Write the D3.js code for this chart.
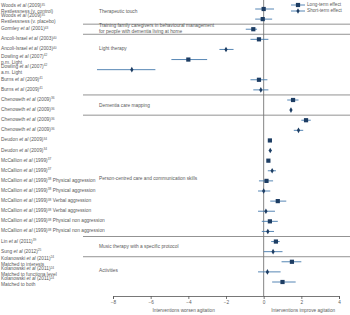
<!DOCTYPE html>
<html>
<head>
<meta charset="utf-8">
<script src="https://cdn.jsdelivr.net/npm/d3@7"></script>
<style>
  body { margin: 0; background: #fff; }
  svg { display: block; font-family: "Liberation Sans", Arial, sans-serif; }
</style>
</head>
<body>
<div id="chart"></div>
<script>
// study labels (one entry per row, top to bottom)
const authors = ["Woods", "Woods", "Gormley", "Ancoli-Israel", "Ancoli-Israel", "Dowling", "Dowling",
  "Burns", "Burns", "Chenoweth", "Chenoweth", "Chenoweth", "Chenoweth", "Deudon", "Deudon",
  "McCallion", "McCallion", "McCallion", "McCallion", "McCallion", "McCallion", "McCallion", "McCallion",
  "Lin", "Sung", "Kolanowski", "Kolanowski", "Kolanowski"];
const years = [2009, 2009, 2001, 2003, 2003, 2007, 2007, 2009, 2009, 2009, 2009, 2009, 2009, 2009, 2009,
  1999, 1999, 1999, 1999, 1999, 1999, 1999, 1999, 2011, 2012, 2011, 2011, 2011];
const refs = [35, 35, 43, 40, 40, 42, 42, 41, 41, 36, 36, 36, 36, 34, 34,
  37, 37, 38, 38, 38, 38, 38, 38, 39, 25, 24, 24, 24];
// text after the reference on the same line
const suffixes = ["", "", "", "", "", "", "", "", "", "", "", "", "", "", "",
  "", "", "Physical aggression", "Physical aggression", "Verbal aggression", "Verbal aggression",
  "Physical non aggression", "Physical non aggression", "", "", "", "", ""];
// second label line
const secondLines = ["Restlessness (v. control)", "Restlessness (v. placebo)", "", "", "",
  "p.m. Light", "a.m. Light", "", "", "", "", "", "", "", "", "", "", "", "", "", "", "", "", "", "",
  "Matched to interests", "Matched to functiona level", "Matched to both"];

// effect sizes
const effectType = ["long", "long", "long", "long", "short", "long", "short", "long", "short",
  "long", "short", "long", "short", "long", "short", "long", "short", "long", "short",
  "long", "short", "long", "short", "long", "short", "long", "short", "long"];
const estimates = [0.0, -0.05, -0.55, -0.25, -2.0, -4.0, -7.0, -0.25, -0.15,
  1.56, 1.45, 2.25, 1.85, 0.33, 0.35, 0.25, 0.45, 0.15, 0.0, 0.75, 0.12, 0.33, 0.22,
  0.65, 0.5, 1.5, 0.2, 1.0];
const lower = [-0.45, -0.45, -0.95, -0.7, -2.35, -4.9, -8.85, -0.7, -0.55,
  1.25, 1.4, 2.0, 1.6, 0.26, 0.27, 0.19, 0.22, -0.25, -0.3, 0.35, -0.3, -0.1, -0.1,
  0.4, 0.0, 0.95, -0.3, 0.45];
const upper = [0.55, 0.45, -0.35, 0.25, -1.6, -3.0, -5.75, 0.2, 0.25,
  1.85, 1.5, 2.5, 2.1, 0.4, 0.43, 0.31, 0.65, 0.5, 0.35, 1.2, 0.6, 0.75, 0.55,
  0.85, 1.0, 2.0, 0.9, 1.7];

// intervention groups
const groupNames = [["Therapeutic touch"],
  ["Training family caregivers in behavioural management", "for people with dementia living at home"],
  ["Light therapy"], ["Dementia care mapping"], ["Person-centred care and communication skills"],
  ["Music therapy with a specific protocol"], ["Activities"]];
const groupFirst = [0, 2, 3, 9, 11, 23, 25];
const groupLast = [1, 2, 8, 10, 22, 24, 27];
const groupLabelRow = [0.3, 2, 3.95, 9.6, 16.8, 23.5, 25.95];

const xTicks = [-8, -6, -4, -2, 0, 2, 4];
const legendLabels = ["Long-term effect", "Short-term effect"];

const W = 350, H = 315;
const axisY = 296;
const textCol = "#5a5a5a";
const markCol = "#1d3d63";
const barCol = "#4479ad";
const fs = 4.8;

const svg = d3.select("#chart").append("svg")
  .attr("width", W).attr("height", H);

const x = d3.scaleLinear().domain([-8, 4]).range([113, 339]);
const y = d3.scaleLinear().domain([0, authors.length - 1]).range([9, 282]);

const rows = authors.map((a, i) => ({
  i, author: a, year: years[i], ref: refs[i], suffix: suffixes[i], second: secondLines[i],
  type: effectType[i], est: estimates[i], lo: lower[i], hi: upper[i]
}));

// zero line
svg.append("line")
  .attr("x1", x(0)).attr("x2", x(0))
  .attr("y1", 0).attr("y2", axisY)
  .attr("stroke", "#666").attr("stroke-width", 0.8);

// group separators
const seps = groupFirst.slice(1).map(f => (y(f) + y(f - 1)) / 2);
svg.selectAll(".sep").data(seps).enter().append("line")
  .attr("class", "sep")
  .attr("x1", 83).attr("x2", W)
  .attr("y1", d => d).attr("y2", d => d)
  .attr("stroke", "#777").attr("stroke-width", 0.8);

// group labels
const gl = svg.selectAll(".glab").data(groupNames).enter().append("text")
  .attr("class", "glab")
  .attr("x", 99)
  .attr("y", (d, i) => y(groupLabelRow[i]) - (d.length - 1) * 2.8)
  .attr("font-size", 4.8).attr("fill", textCol)
  .attr("dominant-baseline", "middle");
gl.each(function(d) {
  d3.select(this).selectAll("tspan").data(d).enter().append("tspan")
    .attr("x", 99).attr("dy", (t, k) => k === 0 ? 0 : 5.6)
    .text(t => t);
});

// study labels
const lab = svg.selectAll(".lab").data(rows).enter().append("g").attr("class", "lab")
  .attr("transform", d => `translate(1,${d.second ? y(d.i) - 2.7 : y(d.i)})`);
const line1 = lab.append("text")
  .attr("font-size", fs).attr("fill", textCol)
  .attr("dominant-baseline", "middle");
line1.append("tspan").text(d => d.author + " ");
line1.append("tspan").attr("font-style", "italic").text("et al");
line1.append("tspan").text(d => ` (${d.year})`);
line1.append("tspan").attr("font-size", 3.2).attr("dy", -1.6).text(d => d.ref);
line1.filter(d => d.suffix).append("tspan")
  .attr("dx", 1.5).attr("dy", 1.6).text(d => d.suffix);
lab.filter(d => d.second).append("text")
  .attr("y", 5.4)
  .attr("font-size", fs).attr("fill", textCol)
  .attr("dominant-baseline", "middle")
  .text(d => d.second);

// error bars
svg.selectAll(".ci").data(rows).enter().append("line")
  .attr("class", "ci")
  .attr("x1", d => x(d.lo)).attr("x2", d => x(d.hi))
  .attr("y1", d => y(d.i)).attr("y2", d => y(d.i))
  .attr("stroke", barCol).attr("stroke-width", 0.9);

// point estimates
function drawMark(sel, type) {
  if (type === "long") {
    sel.append("rect").attr("x", -2.1).attr("y", -2.1).attr("width", 4.2).attr("height", 4.2)
      .attr("fill", markCol);
  } else {
    sel.append("path").attr("d", d3.symbol(d3.symbolDiamond, 9)).attr("fill", markCol);
  }
}
svg.selectAll(".pt").data(rows).enter().append("g")
  .attr("class", "pt")
  .attr("transform", d => `translate(${x(d.est)},${y(d.i)})`)
  .each(function(d) { drawMark(d3.select(this), d.type); });

// x axis
const axis = svg.append("g")
  .attr("transform", `translate(0,${axisY})`)
  .call(d3.axisBottom(x).tickValues(xTicks).tickSize(3).tickPadding(2)
    .tickFormat(d => d < 0 ? "\u2212" + Math.abs(d) : d));
axis.select(".domain").attr("stroke", "#555").attr("stroke-width", 0.8);
axis.selectAll(".tick line").attr("stroke", "#555").attr("stroke-width", 0.8);
axis.selectAll(".tick text").attr("font-size", 4.7).attr("fill", textCol)
  .attr("font-family", "Liberation Sans, Arial, sans-serif");

svg.append("text").attr("x", x(-4.25)).attr("y", 312)
  .attr("text-anchor", "middle").attr("font-size", 4.7).attr("fill", textCol)
  .text("Interventions worsen agitation");
svg.append("text").attr("x", x(2.1)).attr("y", 312)
  .attr("text-anchor", "middle").attr("font-size", 4.7).attr("fill", textCol)
  .text("Interventions improve agitation");

// legend
const leg = svg.selectAll(".leg").data(legendLabels).enter().append("g")
  .attr("class", "leg")
  .attr("transform", (d, i) => `translate(291,${5 + i * 6})`);
leg.append("line").attr("x1", 0).attr("x2", 14)
  .attr("stroke", barCol).attr("stroke-width", 0.9);
leg.append("g").attr("transform", "translate(7,0)")
  .each(function(d, i) { drawMark(d3.select(this), i === 0 ? "long" : "short"); });
leg.append("text").attr("x", 16).attr("font-size", 4.7).attr("fill", textCol)
  .attr("dominant-baseline", "middle").text(d => d);
</script>
</body>
</html>
